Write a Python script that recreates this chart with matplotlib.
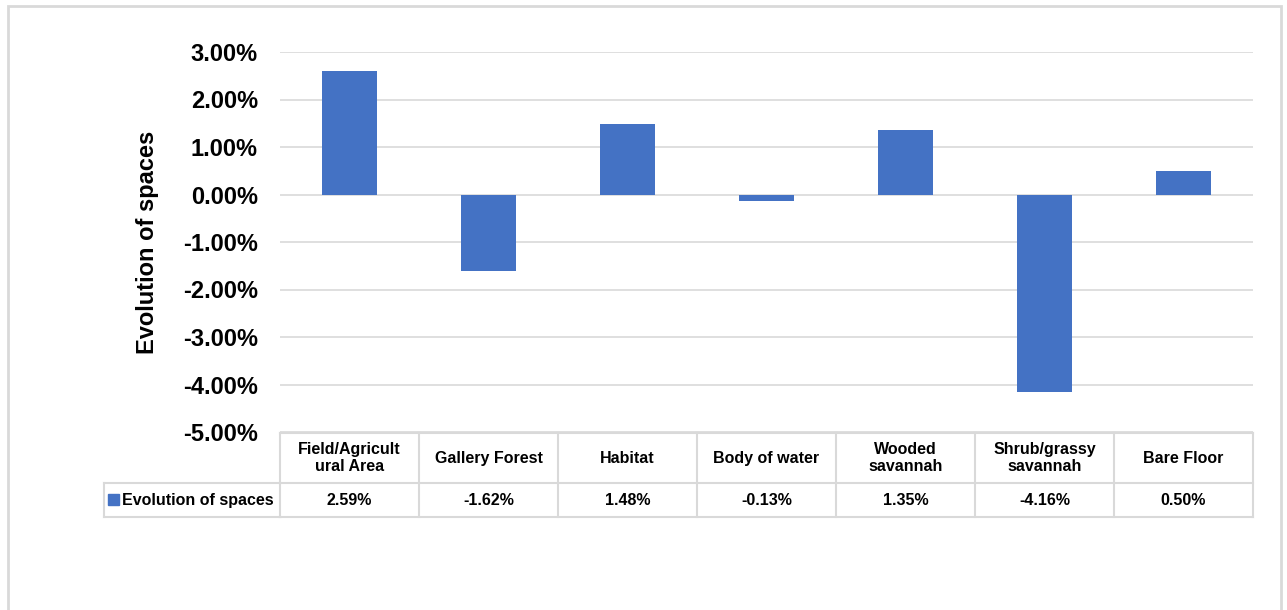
import matplotlib
matplotlib.use('Agg')
import matplotlib.pyplot as plt
import matplotlib.transforms as mtransforms
from matplotlib.patches import Rectangle
from matplotlib.lines import Line2D
import numpy as np

plt.rcParams['font.family'] = ['Liberation Sans', 'DejaVu Sans']
plt.rcParams['font.weight'] = 'bold'

categories = ["Field/Agricult\nural Area", "Gallery Forest", "Habitat", "Body of water",
              "Wooded\nsavannah", "Shrub/grassy\nsavannah", "Bare Floor"]
values = [2.59, -1.62, 1.48, -0.13, 1.35, -4.16, 0.50]
series_name = "Evolution of spaces"
yticks = [3, 2, 1, 0, -1, -2, -3, -4, -5]

bar_color = '#4472C4'
grid_color = '#d9d9d9'

W, H = 1287, 610
fig = plt.figure(figsize=(W / 100, H / 100), dpi=100)

# outer chart frame
fig.add_artist(Rectangle((8 / W, -0.05), (1281 - 8) / W, 1 - 6 / H + 0.05,
                         transform=fig.transFigure, fill=False,
                         edgecolor=grid_color, linewidth=2))

ax = fig.add_axes([280 / W, 1 - 432 / H, (1253 - 280) / W, 380 / H])
x = np.arange(len(values))
ax.bar(x, values, width=0.4, color=bar_color, zorder=3)
ax.set_xlim(-0.5, len(values) - 0.5)
ax.set_ylim(-5, 3)
ax.set_yticks(yticks)
ax.set_yticklabels(['%.2f%%' % v for v in yticks], fontsize=17, fontweight='bold')
ax.tick_params(axis='y', length=0, pad=16)
ax.set_xticks([])
ax.grid(axis='y', color=grid_color, linewidth=1.2, zorder=0)
for s in ax.spines.values():
    s.set_visible(False)
ax.set_ylabel(series_name, fontsize=17, fontweight='bold')
ax.yaxis.set_label_coords(-0.124, 0.5)

# data table under the axes
trans = mtransforms.blended_transform_factory(ax.transData, ax.transAxes)
y_top, y_mid, y_bot = -0.003, -0.134, -0.224
x_left = -0.181
lw = 1.5

def line(xs, ys, tr):
    ax.add_line(Line2D(xs, ys, transform=tr, color=grid_color, linewidth=lw,
                       clip_on=False))

line([-0.5, len(values) - 0.5], [y_top, y_top], trans)
line([-0.5, len(values) - 0.5], [y_mid, y_mid], trans)
line([-0.5, len(values) - 0.5], [y_bot, y_bot], trans)
line([x_left, 0], [y_mid, y_mid], ax.transAxes)
line([x_left, 0], [y_bot, y_bot], ax.transAxes)
line([x_left, x_left], [y_mid, y_bot], ax.transAxes)
for i in range(len(values) + 1):
    line([i - 0.5, i - 0.5], [y_top, y_bot], trans)

for i, (c, v) in enumerate(zip(categories, values)):
    ax.text(i, (y_top + y_mid) / 2, c, transform=trans, ha='center', va='center',
            fontsize=11.5, fontweight='bold', linespacing=1.1)
    ax.text(i, (y_mid + y_bot) / 2, '%.2f%%' % v, transform=trans, ha='center',
            va='center', fontsize=11.5, fontweight='bold')

ax.add_patch(Rectangle((-0.177, (y_mid + y_bot) / 2 - 0.014), 0.0115, 0.029,
                       transform=ax.transAxes, color=bar_color, clip_on=False))
ax.text(-0.162, (y_mid + y_bot) / 2, series_name, transform=ax.transAxes,
        ha='left', va='center', fontsize=11.5, fontweight='bold')

plt.savefig('out.png', dpi=100)
